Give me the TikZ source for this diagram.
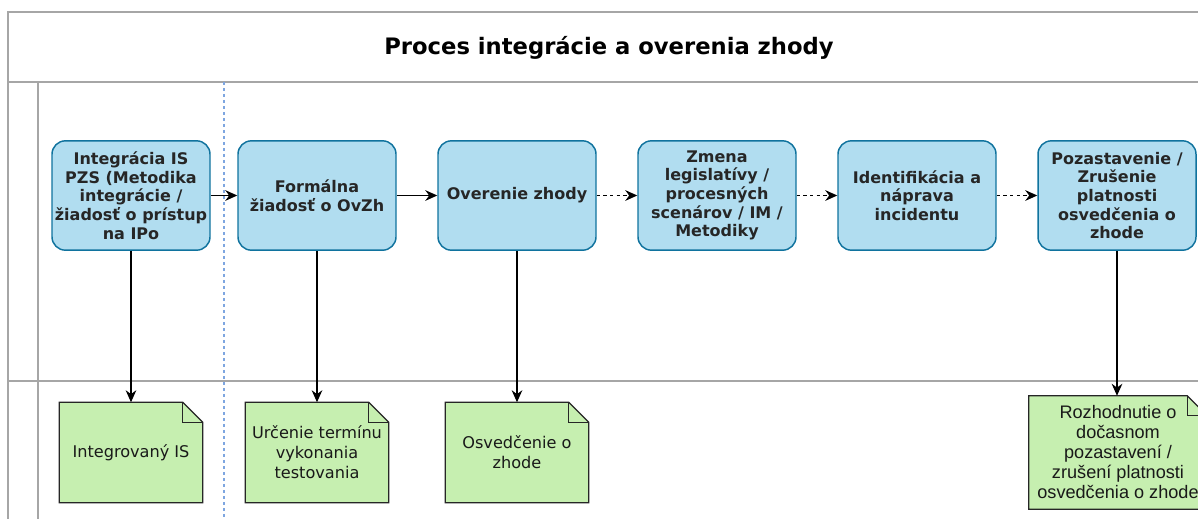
\documentclass[tikz,border=0pt]{standalone}
\usepackage{fontspec}
\setmainfont{DejaVu Sans}
\newfontfamily\arialfont{Liberation Sans}
\usetikzlibrary{arrows.meta,backgrounds}

\definecolor{stepfill}{HTML}{B1DDF0}
\definecolor{stepline}{HTML}{10739E}
\definecolor{notefill}{HTML}{C6EFB0}
\definecolor{noteline}{HTML}{262626}
\definecolor{laneline}{HTML}{A6A6A6}
\definecolor{sepline}{HTML}{7EA6E0}

\tikzset{
  stepbox/.style={draw=stepline, fill=stepfill, line width=1.1pt, rounded corners=10pt,
    minimum width=118.5pt, minimum height=82pt, inner xsep=1pt, align=center, text=black!85,
    font=\fontsize{12}{14}\selectfont\bfseries},
  notebox/.style={minimum width=107.25pt, minimum height=75pt, inner xsep=1pt, align=center, text=black!90,
    font=\fontsize{12.1}{15}\selectfont},
  noteshape/.style={draw=noteline, fill=notefill, line width=0.9pt},
  flow/.style={-{Stealth[length=9pt,width=8pt]}, line width=0.9pt},
  maybeflow/.style={flow, dash pattern=on 2.5pt off 2.5pt},
  lane/.style={draw=laneline, line width=1.1pt},
}

\begin{document}
\begin{tikzpicture}[x=0.75pt, y=-0.75pt]
    \useasboundingbox (0,0) rectangle (1198,518);
    \clip (0,0) rectangle (1198,518);
    % pool and lanes
    \draw[lane] (1220,12) -- (8,12) -- (8,530);
    \draw[lane] (8,82) -- (1220,82);
    \draw[lane] (38,82) -- (38,530);
    \draw[lane] (8,381) -- (1220,381);
    \draw[sepline, line width=0.8pt, dash pattern=on 2.5pt off 2pt] (224,82) -- (224,530);
    \node (title) at (609,48) {\fontsize{17}{20}\selectfont\bfseries Proces integrácie a overenia zhody};

    % process steps
    \node[stepbox] (integracia) at (131,195.5) {Integrácia IS\\PZS (Metodika\\integrácie /\\žiadosť o prístup\\na IPo};
    \node[stepbox] (ziadost)    at (317,195.5) {Formálna\\žiadosť o OvZh};
    \node[stepbox] (overenie)   at (517,195.5) {Overenie zhody};
    \node[stepbox] (zmena)      at (717,195.5) {Zmena\\legislatívy /\\procesných\\scenárov / IM /\\Metodiky};
    \node[stepbox] (incident)   at (917,195.5) {Identifikácia a\\náprava\\incidentu};
    \node[stepbox] (zrusenie)   at (1117,195.5) {Pozastavenie /\\Zrušenie\\platnosti\\osvedčenia o\\zhode};

    % outputs
    \node[notebox] (integrovany) at (131,452.5) {Integrovaný IS};
    \node[notebox] (termin)      at (317,452.5) {Určenie termínu\\vykonania\\testovania};
    \node[notebox] (osvedcenie)  at (517,452.5) {Osvedčenie o\\zhode};
    \node[notebox, minimum width=133.5pt, minimum height=84.75pt,
          font=\arialfont\fontsize{13.6}{15}\selectfont] (rozhodnutie) at (1118,452.5)
          {Rozhodnutie o\\dočasnom\\pozastavení /\\zrušení platnosti\\osvedčenia o zhode};

    \begin{scope}[on background layer]
      \foreach \n in {integrovany,termin,osvedcenie,rozhodnutie} {
        \draw[noteshape] (\n.north west) -- ([xshift=-15pt]\n.north east)
          -- ([yshift=-15pt]\n.north east) -- (\n.south east) -- (\n.south west) -- cycle;
        \draw[noteshape, fill=none] ([xshift=-15pt]\n.north east) |- ([yshift=-15pt]\n.north east);
      }
    \end{scope}

    % connectors
    \draw[flow] (integracia) -- (ziadost);
    \draw[flow] (ziadost) -- (overenie);
    \draw[maybeflow] (overenie) -- (zmena);
    \draw[maybeflow] (zmena) -- (incident);
    \draw[maybeflow] (incident) -- (zrusenie);
    \draw[flow] (integracia) -- (integrovany);
    \draw[flow] (ziadost) -- (termin);
    \draw[flow] (overenie) -- (osvedcenie);
    \draw[flow] (zrusenie.south) -- (zrusenie.south |- rozhodnutie.north);
\end{tikzpicture}
\end{document}
